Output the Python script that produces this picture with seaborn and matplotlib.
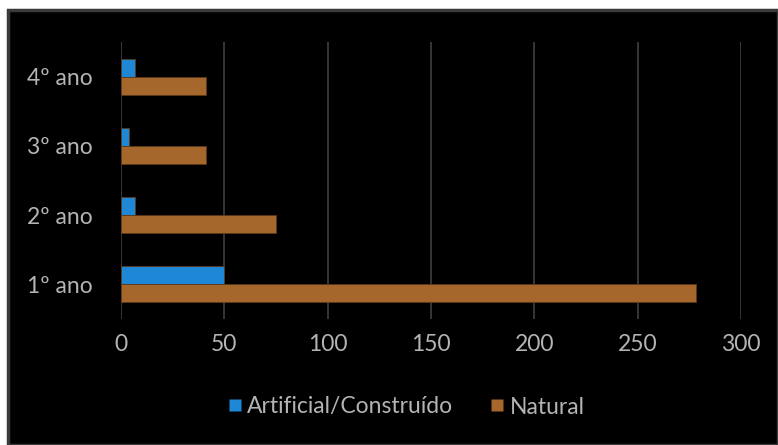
import matplotlib
matplotlib.use("Agg")
import matplotlib.pyplot as plt
import matplotlib.patches as mpatches
from matplotlib.lines import Line2D
import seaborn as sns
import pandas as pd

categories = ["4º ano", "3º ano", "2º ano", "1º ano"]
artificial = [7, 4, 7, 50]
natural = [41, 41, 75, 278]
series_names = ["Artificial/Construído", "Natural"]
x_ticks = [0, 50, 100, 150, 200, 250, 300]

colors = ["#1E88D6", "#A6672D"]
text_color = "#B4B4B4"

df = pd.DataFrame({
    "ano": categories * 2,
    "valor": artificial + natural,
    "serie": [series_names[0]] * len(categories) + [series_names[1]] * len(categories),
})

sns.set_theme(style="dark")
plt.rcParams['font.family'] = ['Lato', 'DejaVu Sans']

fig = plt.figure(figsize=(7.78, 4.45), dpi=100)
fig.patch.set_facecolor("white")
# black chart box with grey border
box = mpatches.Rectangle((8 / 778, 0), 1 - 8 / 778, 1 - 10 / 445,
                         transform=fig.transFigure, facecolor="black",
                         edgecolor="#3A3A3A", linewidth=2.5, zorder=-10)
fig.patches.append(box)

ax = fig.add_axes([121 / 778, 1 - 319 / 445, (741 - 121) / 778, (319 - 42) / 445])
ax.set_facecolor("black")
sns.barplot(data=df, x="valor", y="ano", hue="serie", order=categories,
            hue_order=series_names, palette=colors, orient="h",
            width=0.52, gap=0, ax=ax, legend=False, saturation=1,
            edgecolor="#5a3a18", linewidth=0.6)

ax.set_xlim(0, 300)
ax.set_xticks(x_ticks)
ax.set_xlabel("")
ax.set_ylabel("")
ax.grid(axis="x", color="#363636", linewidth=1.4)
ax.grid(axis="y", visible=False)
ax.set_axisbelow(True)
for s in ax.spines.values():
    s.set_visible(False)
ax.tick_params(axis="x", colors=text_color, labelsize=16.5, pad=11, length=0)
ax.tick_params(axis="y", colors=text_color, labelsize=16.5, pad=20, length=0)

handles = [Line2D([], [], marker="s", linestyle="none", markersize=9,
                  markerfacecolor=c, markeredgecolor="none") for c in colors]
leg = fig.legend(handles, series_names, loc="center", bbox_to_anchor=(406 / 778, 1 - 407 / 445),
                 ncol=2, frameon=False, fontsize=16.5, handlelength=0.6,
                 handletextpad=0.25, columnspacing=1.6)
for t in leg.get_texts():
    t.set_color(text_color)

fig.savefig("out.png", dpi=100, facecolor="white")
